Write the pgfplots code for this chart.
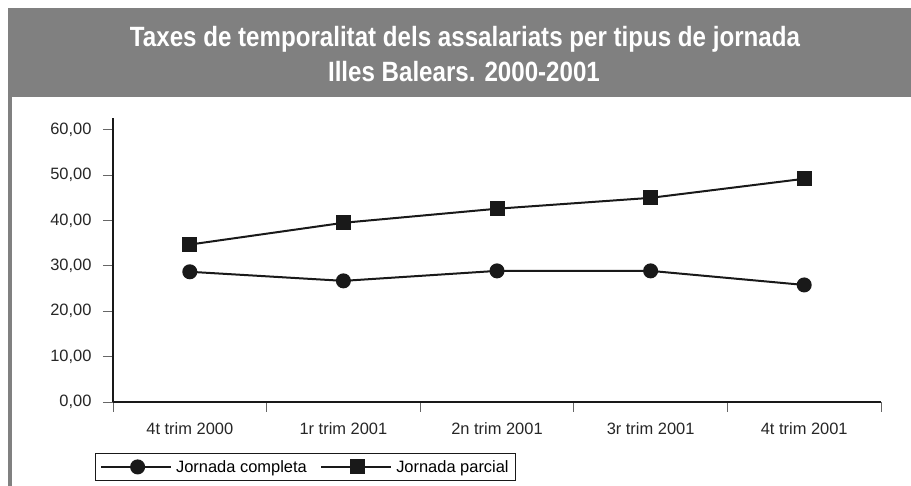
\documentclass[border=0pt]{standalone}
\usepackage{pgfplots}
\pgfplotsset{compat=1.18}
\usepackage{fontspec}
\setmainfont{Liberation Sans}
\newfontfamily\titlefont{Liberation Sans}[FakeStretch=0.865]
\definecolor{band}{RGB}{128,128,128}
\definecolor{ink}{RGB}{25,25,25}
\begin{document}
\begin{tikzpicture}[x=1bp,y=1bp]
\path[use as bounding box] (0,0) rectangle (911,486);
\fill[band] (8,389) rectangle (911,478);
\fill[band] (8,0) rectangle (12,389);
\node[anchor=base, text=white, font=\titlefont\bfseries\fontsize{28}{30}\selectfont, inner sep=0] at (465,439) {Taxes de temporalitat dels assalariats per tipus de jornada};
\node[anchor=base, text=white, font=\titlefont\bfseries\fontsize{28}{30}\selectfont, inner sep=0] at (464,404) {Illes Balears. 2000-2001};
\begin{axis}[
  at={(113bp,84bp)}, anchor=south west,
  scale only axis, width=768bp, height=284bp,
  xmin=-0.5, xmax=4.5, ymin=0, ymax=62.6,
  axis x line*=bottom, axis y line*=left,
  axis line style={line width=2bp, ink, -},
  clip=false,
  tick align=outside,
  major tick length=10bp, minor tick length=10bp,
  xtick={0,...,4},
  xticklabels={4t trim 2000, 1r trim 2001, 2n trim 2001, 3r trim 2001, 4t trim 2001},
  minor xtick={-0.5,0.5,1.5,2.5,3.5,4.5},
  every major x tick/.append style={draw=none},
  every tick/.append style={line width=0.8bp, black!60},
  ytick={0,10,...,60},
  /pgf/number format/assume math mode=true,
  yticklabel style={xshift=-8bp, /pgf/number format/.cd, fixed, fixed zerofill, precision=2, use comma},
  xticklabel style={yshift=-7bp},
  tick label style={font=\fontsize{16.5}{18}\selectfont, text=black!85},
  legend columns=2,
  legend style={at={(-0.0234,-0.18)}, anchor=north west, draw=ink, line width=1.2bp,
     font=\fontsize{16.5}{18}\selectfont, inner xsep=4.5bp, inner ysep=4.5bp,
     /tikz/every odd column/.append style={column sep=2bp},
     /tikz/every even column/.append style={column sep=11.5bp}},
  legend image code/.code={\path (-3bp,0bp) -- (0bp,0bp);
     \draw[mark repeat=2,mark phase=2,#1] plot coordinates {(0bp,0bp) (33.5bp,0bp) (67bp,0bp)};},
]
\addplot[ink, line width=2bp, mark=*, mark size=6.5bp, mark options={solid, fill=ink}] coordinates {
 (0,28.7) (1,26.7) (2,28.9) (3,28.9) (4,25.8)};
\addlegendentry{Jornada completa}
\addplot[ink, line width=2bp, mark=square*, mark size=6.5bp, mark options={solid, fill=ink}] coordinates {
 (0,34.7) (1,39.5) (2,42.6) (3,45.0) (4,49.2)};
\addlegendentry{Jornada parcial}
\end{axis}
\end{tikzpicture}
\end{document}
